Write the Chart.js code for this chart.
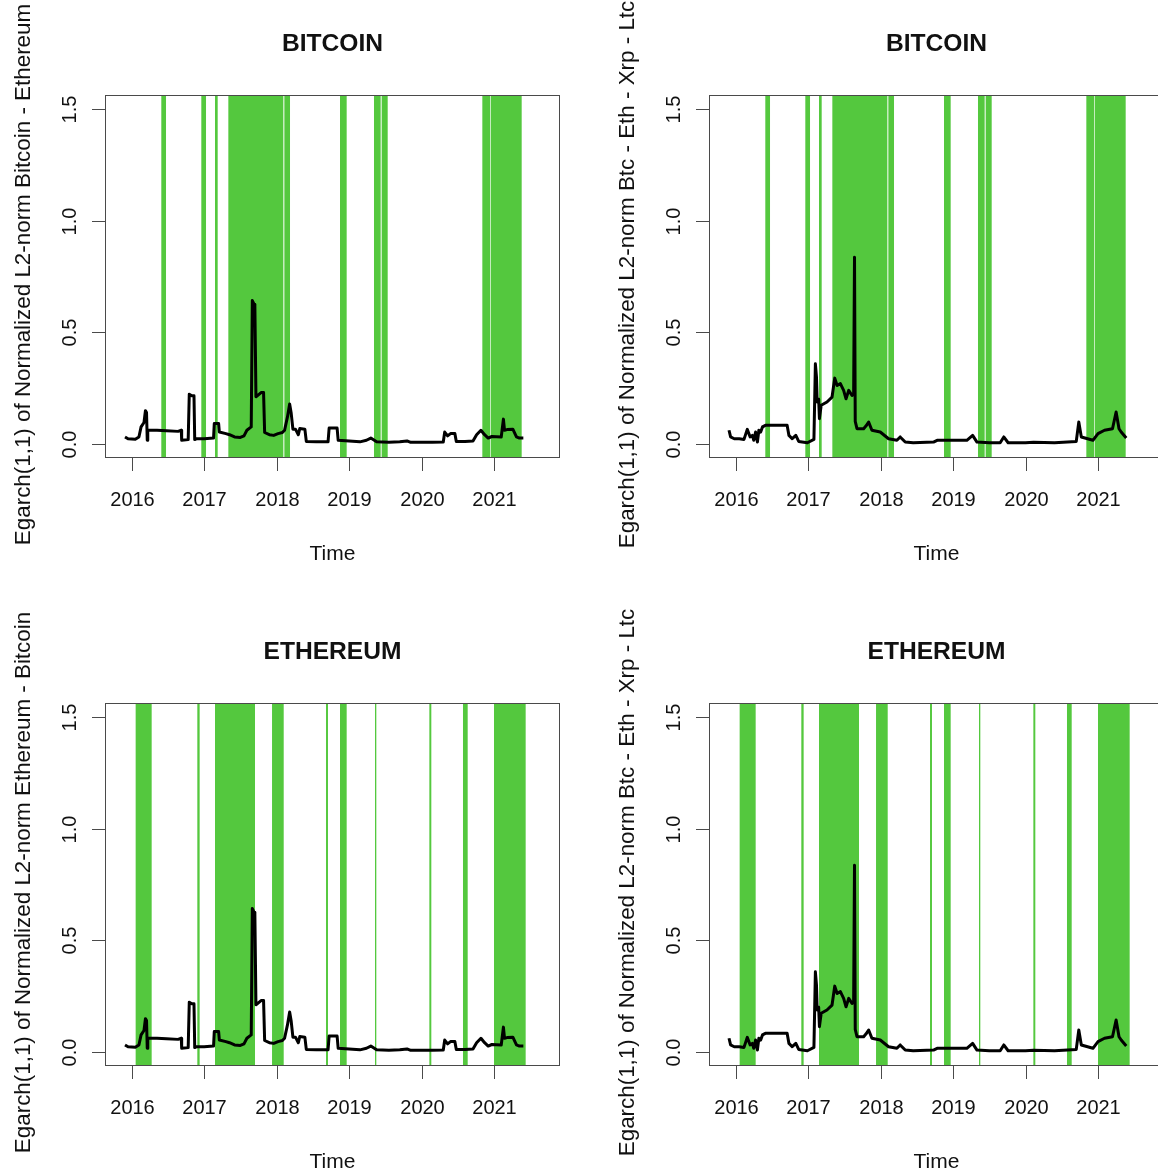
<!DOCTYPE html>
<html>
<head>
<meta charset="utf-8">
<script src="https://cdn.jsdelivr.net/npm/chart.js@4.4.0/dist/chart.umd.min.js"></script>
<style>
  html, body { margin: 0; padding: 0; background: #fff; overflow: hidden; }
  #page { position: relative; width: 1158px; height: 1173px; overflow: hidden; }
  .panel { position: absolute; width: 604px; height: 608px; }
  .panel canvas { display: block; }
</style>
</head>
<body>
<div id="page">
  <div class="panel" style="left:0;top:0"><canvas id="btcPair" width="604" height="608"></canvas></div>
  <div class="panel" style="left:604px;top:0"><canvas id="btcAll" width="604" height="608"></canvas></div>
  <div class="panel" style="left:0;top:608px"><canvas id="ethPair" width="604" height="608"></canvas></div>
  <div class="panel" style="left:604px;top:608px"><canvas id="ethAll" width="604" height="608"></canvas></div>
</div>
<script>
// axis ticks
const yearTicks = [2016, 2017, 2018, 2019, 2020, 2021];
const valueTicks = [0, 0.5, 1, 1.5];
const valueTickLabels = ['0.0', '0.5', '1.0', '1.5'];

// Egarch(1,1) of the two-coin L2-norm (Bitcoin - Ethereum)
const pairTime = [2015.908, 2015.95, 2016.05, 2016.10, 2016.13, 2016.17, 2016.19, 2016.205, 2016.215, 2016.222,
  2016.35, 2016.48, 2016.64, 2016.685, 2016.69, 2016.78, 2016.795, 2016.83, 2016.86, 2016.87,
  2016.90, 2017.00, 2017.13, 2017.14, 2017.20, 2017.21, 2017.30, 2017.35, 2017.42, 2017.50,
  2017.55, 2017.59, 2017.65, 2017.665, 2017.69, 2017.70, 2017.715, 2017.79, 2017.82, 2017.835,
  2017.90, 2017.96, 2018.02, 2018.08, 2018.11, 2018.15, 2018.18, 2018.20, 2018.225, 2018.26,
  2018.30, 2018.32, 2018.39, 2018.41, 2018.55, 2018.71, 2018.725, 2018.835, 2018.85, 2019.00,
  2019.15, 2019.24, 2019.30, 2019.38, 2019.55, 2019.70, 2019.80, 2019.85, 2020.00, 2020.15,
  2020.30, 2020.32, 2020.36, 2020.40, 2020.46, 2020.48, 2020.60, 2020.71, 2020.76, 2020.82,
  2020.87, 2020.92, 2020.97, 2021.10, 2021.13, 2021.145, 2021.18, 2021.26, 2021.31, 2021.35, 2021.405];
const pairValue = [0.030, 0.022, 0.020, 0.030, 0.075, 0.095, 0.148, 0.140, 0.015, 0.060,
  0.060, 0.058, 0.055, 0.060, 0.015, 0.018, 0.222, 0.215, 0.215, 0.018,
  0.022, 0.022, 0.025, 0.090, 0.090, 0.052, 0.045, 0.040, 0.030, 0.028,
  0.035, 0.060, 0.075, 0.642, 0.625, 0.620, 0.210, 0.230, 0.230, 0.050,
  0.040, 0.037, 0.045, 0.050, 0.060, 0.120, 0.178, 0.140, 0.065, 0.065,
  0.040, 0.068, 0.065, 0.010, 0.008, 0.008, 0.070, 0.070, 0.015, 0.012,
  0.008, 0.015, 0.025, 0.008, 0.006, 0.008, 0.012, 0.006, 0.006, 0.006,
  0.007, 0.052, 0.035, 0.045, 0.045, 0.010, 0.010, 0.012, 0.040, 0.060,
  0.040, 0.025, 0.032, 0.030, 0.110, 0.060, 0.063, 0.065, 0.030, 0.025, 0.025];

// Egarch(1,1) of the four-coin L2-norm (Btc - Eth - Xrp - Ltc)
const allTime = [2015.908, 2015.93, 2015.98, 2016.05, 2016.115, 2016.16, 2016.20, 2016.23, 2016.25, 2016.275,
  2016.30, 2016.32, 2016.345, 2016.37, 2016.41, 2016.46, 2016.71, 2016.735, 2016.78, 2016.83,
  2016.87, 2016.99, 2017.08, 2017.10, 2017.115, 2017.125, 2017.145, 2017.156, 2017.18, 2017.26,
  2017.33, 2017.367, 2017.40, 2017.445, 2017.49, 2017.523, 2017.56, 2017.606, 2017.628, 2017.640,
  2017.650, 2017.674, 2017.766, 2017.80, 2017.835, 2017.88, 2017.995, 2018.11, 2018.225, 2018.27,
  2018.34, 2018.45, 2018.73, 2018.78, 2019.00, 2019.19, 2019.27, 2019.33, 2019.50, 2019.65,
  2019.70, 2019.76, 2020.00, 2020.11, 2020.40, 2020.70, 2020.735, 2020.77, 2020.93, 2021.00,
  2021.09, 2021.20, 2021.25, 2021.29, 2021.32, 2021.39];
const allValue = [0.060, 0.030, 0.022, 0.022, 0.019, 0.064, 0.030, 0.037, 0.015, 0.052,
  0.007, 0.060, 0.052, 0.075, 0.082, 0.082, 0.082, 0.037, 0.022, 0.037,
  0.010, 0.004, 0.019, 0.358, 0.300, 0.187, 0.200, 0.112, 0.172, 0.187,
  0.209, 0.294, 0.261, 0.269, 0.239, 0.201, 0.239, 0.216, 0.224, 0.836,
  0.100, 0.067, 0.067, 0.080, 0.097, 0.060, 0.052, 0.022, 0.015, 0.030,
  0.007, 0.004, 0.007, 0.015, 0.015, 0.015, 0.037, 0.007, 0.004, 0.004,
  0.030, 0.004, 0.004, 0.006, 0.004, 0.010, 0.097, 0.030, 0.015, 0.045,
  0.060, 0.067, 0.142, 0.067, 0.052, 0.025];

// green regime periods
const bitcoinBandStart = [2016.409, 2016.961, 2017.150, 2017.334, 2018.107, 2018.875, 2019.344, 2019.450, 2020.839, 2020.954];
const bitcoinBandEnd   = [2016.474, 2017.026, 2017.187, 2018.093, 2018.185, 2018.967, 2019.436, 2019.533, 2020.945, 2021.382];
const ethereumBandStart = [2016.055, 2016.906, 2017.150, 2017.937, 2018.682, 2018.875, 2019.358, 2020.108, 2020.572, 2021.000];
const ethereumBandEnd   = [2016.276, 2016.938, 2017.702, 2018.098, 2018.709, 2018.967, 2019.376, 2020.135, 2020.637, 2021.437];

const bandColour = 'rgb(84, 200, 62)';
const frameColour = '#4a4a4a';
const textColour = '#111';
const fontFamily = '"Liberation Sans", Arial, Helvetica, sans-serif';

// R-like box, ticks and labels, drawn from the chart's own scales
const rFrame = {
  id: 'rFrame',
  beforeDatasetsDraw(chart, args, opts) {
    const { ctx, chartArea: a, scales: { x } } = chart;
    ctx.save();
    ctx.beginPath();
    ctx.rect(a.left, a.top, a.right - a.left, a.bottom - a.top);
    ctx.clip();
    ctx.fillStyle = bandColour;
    opts.bandStart.forEach((s, i) => {
      const x1 = x.getPixelForValue(s);
      const x2 = x.getPixelForValue(opts.bandEnd[i]);
      ctx.fillRect(x1, a.top, x2 - x1, a.bottom - a.top);
    });
    ctx.restore();
  },
  afterDraw(chart, args, opts) {
    const { ctx, chartArea: a, scales: { x, y } } = chart;
    ctx.save();
    ctx.strokeStyle = frameColour;
    ctx.lineWidth = 1;
    ctx.strokeRect(a.left - 0.5, a.top - 0.5, a.right - a.left + 1, a.bottom - a.top + 1);

    // x axis
    ctx.fillStyle = textColour;
    ctx.font = '20px ' + fontFamily;
    ctx.textAlign = 'center';
    ctx.textBaseline = 'middle';
    yearTicks.forEach(t => {
      const px = Math.round(x.getPixelForValue(t)) + 0.5;
      ctx.beginPath();
      ctx.moveTo(px, a.bottom);
      ctx.lineTo(px, a.bottom + 14);
      ctx.stroke();
      ctx.fillText(String(t), px, a.bottom + 43);
    });
    ctx.font = '21px ' + fontFamily;
    ctx.fillText('Time', (a.left + a.right) / 2, a.bottom + 97);

    // y axis
    ctx.font = '20px ' + fontFamily;
    valueTicks.forEach((v, i) => {
      const py = Math.round(y.getPixelForValue(v)) + 0.5;
      ctx.beginPath();
      ctx.moveTo(a.left - 14, py);
      ctx.lineTo(a.left, py);
      ctx.stroke();
      ctx.save();
      ctx.translate(a.left - 36, py);
      ctx.rotate(-Math.PI / 2);
      ctx.fillText(valueTickLabels[i], 0, 0);
      ctx.restore();
    });
    ctx.font = '22.4px ' + fontFamily;
    ctx.save();
    ctx.translate(24, (a.top + a.bottom) / 2 - 2);
    ctx.rotate(-Math.PI / 2);
    ctx.fillText(opts.yTitle, 0, 0);
    ctx.restore();

    // title
    ctx.font = 'bold 24.6px ' + fontFamily;
    ctx.fillText(opts.title, (a.left + a.right) / 2, 44);
    ctx.restore();
  }
};

function makePanel(id, title, yTitle, times, values, bandStart, bandEnd) {
  const points = times.map((t, i) => ({ x: t, y: values[i] }));
  new Chart(document.getElementById(id), {
    type: 'line',
    data: {
      datasets: [{
        data: points,
        borderColor: '#000',
        borderWidth: 3,
        pointRadius: 0,
        tension: 0,
        fill: false,
        borderJoinStyle: 'round'
      }]
    },
    options: {
      responsive: false,
      animation: false,
      devicePixelRatio: 1,
      layout: { padding: { left: 106, right: 45, top: 96, bottom: 151 } },
      scales: {
        x: { type: 'linear', display: false, min: 2015.6458, max: 2021.897 },
        y: { display: false, min: -0.06, max: 1.56 }
      },
      plugins: {
        legend: { display: false },
        tooltip: { enabled: false },
        rFrame: { title: title, yTitle: yTitle, bandStart: bandStart, bandEnd: bandEnd }
      }
    },
    plugins: [rFrame]
  });
}

makePanel('btcPair', 'BITCOIN', 'Egarch(1,1) of Normalized L2-norm Bitcoin - Ethereum',
  pairTime, pairValue, bitcoinBandStart, bitcoinBandEnd);
makePanel('btcAll', 'BITCOIN', 'Egarch(1,1) of Normalized L2-norm Btc - Eth - Xrp - Ltc',
  allTime, allValue, bitcoinBandStart, bitcoinBandEnd);
makePanel('ethPair', 'ETHEREUM', 'Egarch(1,1) of Normalized L2-norm Ethereum - Bitcoin',
  pairTime, pairValue, ethereumBandStart, ethereumBandEnd);
makePanel('ethAll', 'ETHEREUM', 'Egarch(1,1) of Normalized L2-norm Btc - Eth - Xrp - Ltc',
  allTime, allValue, ethereumBandStart, ethereumBandEnd);
</script>
</body>
</html>
